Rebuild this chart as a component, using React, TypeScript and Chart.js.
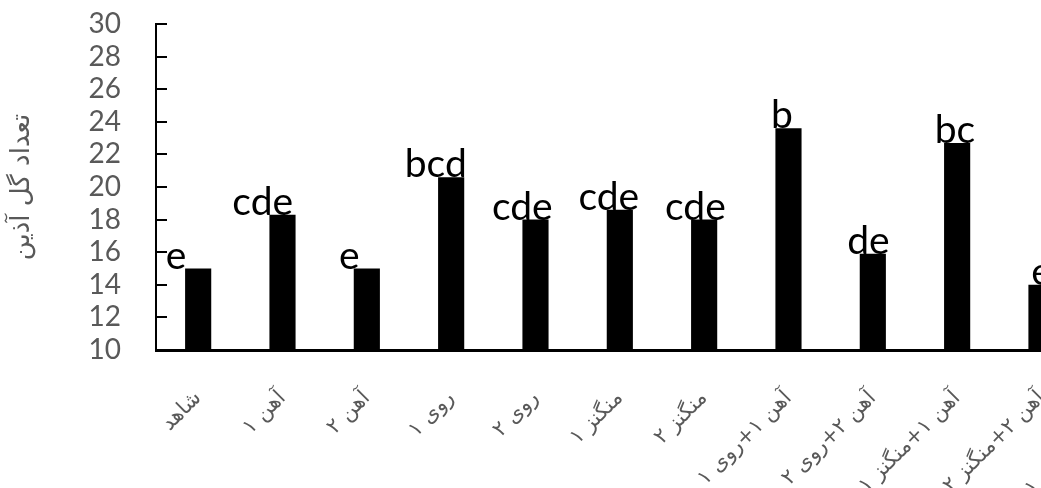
import { useEffect, useRef } from "react";
import { Chart, registerables } from "chart.js";

Chart.register(...registerables);

const categories = [
  "شاهد",
  "آهن ۱",
  "آهن ۲",
  "روی ۱",
  "روی ۲",
  "منگنز ۱",
  "منگنز ۲",
  "آهن ۱+روی ۱",
  "آهن ۲+روی ۲",
  "آهن ۱+منگنز ۱",
  "آهن ۲+منگنز ۲",
  "روی ۱+منگنز ۱",
];
const values = [15, 18.3, 15, 20.6, 18, 18.6, 18, 23.6, 15.9, 22.7, 14, 15];
const letters = ["e", "cde", "e", "bcd", "cde", "cde", "cde", "b", "de", "bc", "e", "e"];
const yMin = 10;
const yMax = 30;
const yStep = 2;
const yTitle = "تعداد گل آذین";

const marksPlugin = {
  id: "marks",
  afterDatasetsDraw(chart: any) {
    const { ctx, scales } = chart;
    const x = scales.x;
    const y = scales.y;
    ctx.save();
    ctx.strokeStyle = "#000";
    ctx.lineWidth = 2;
    y.ticks.forEach((t: any) => {
      const py = Math.round(y.getPixelForValue(t.value));
      ctx.beginPath();
      ctx.moveTo(x.left, py);
      ctx.lineTo(x.left + 11, py);
      ctx.stroke();
    });
    const meta = chart.getDatasetMeta(0);
    ctx.font = "39px Lato";
    ctx.fillStyle = "#000";
    ctx.textAlign = "center";
    ctx.textBaseline = "alphabetic";
    meta.data.forEach((bar: any, i: number) => {
      ctx.fillText(letters[i], bar.x - 22 + 2.2 * i, bar.y);
    });
    ctx.restore();
  },
};

export default function App() {
  const ref = useRef<HTMLCanvasElement | null>(null);
  useEffect(() => {
    if (!ref.current) return;
    const chart = new Chart(ref.current, {
      type: "bar",
      data: {
        labels: categories,
        datasets: [
          {
            data: values,
            backgroundColor: "#000",
            borderWidth: 0,
            barPercentage: 0.62,
            categoryPercentage: 0.5,
          },
        ],
      },
      options: {
        responsive: false,
        animation: false,
        devicePixelRatio: 1,
        layout: { padding: { top: 24, left: 0, right: 9, bottom: 0 } },
        plugins: {
          legend: { display: false },
          tooltip: { enabled: false },
        },
        scales: {
          x: {
            grid: { display: false, drawTicks: false },
            border: { display: true, color: "#000", width: 3 },
            ticks: {
              autoSkip: false,
              maxRotation: 45,
              minRotation: 45,
              padding: 36,
              color: "#595959",
              font: { family: "DejaVu Sans", size: 21 },
            },
            afterFit: (s: any) => {
              s.height = 138;
            },
          },
          y: {
            min: yMin,
            max: yMax,
            grid: { display: false, drawTicks: true, tickLength: 32 },
            border: { display: true, color: "#000", width: 2 },
            ticks: {
              stepSize: yStep,
              autoSkip: false,
              padding: 3,
              color: "#595959",
              font: { family: "Lato", size: 28 },
            },
            title: {
              display: true,
              text: yTitle,
              color: "#595959",
              font: { family: "DejaVu Sans", size: 26 },
              padding: { top: 7, bottom: 0 },
            },
            afterFit: (s: any) => {
              s.width = 156;
            },
          },
        },
      },
      plugins: [marksPlugin],
    });
    return () => chart.destroy();
  }, []);
  return (
    <div
      style={{
        position: "fixed",
        left: 0,
        top: 0,
        width: 1041,
        height: 488,
        overflow: "hidden",
        background: "#fff",
      }}
    >
      <canvas ref={ref} width={1180} height={488} style={{ display: "block" }} />
    </div>
  );
}
